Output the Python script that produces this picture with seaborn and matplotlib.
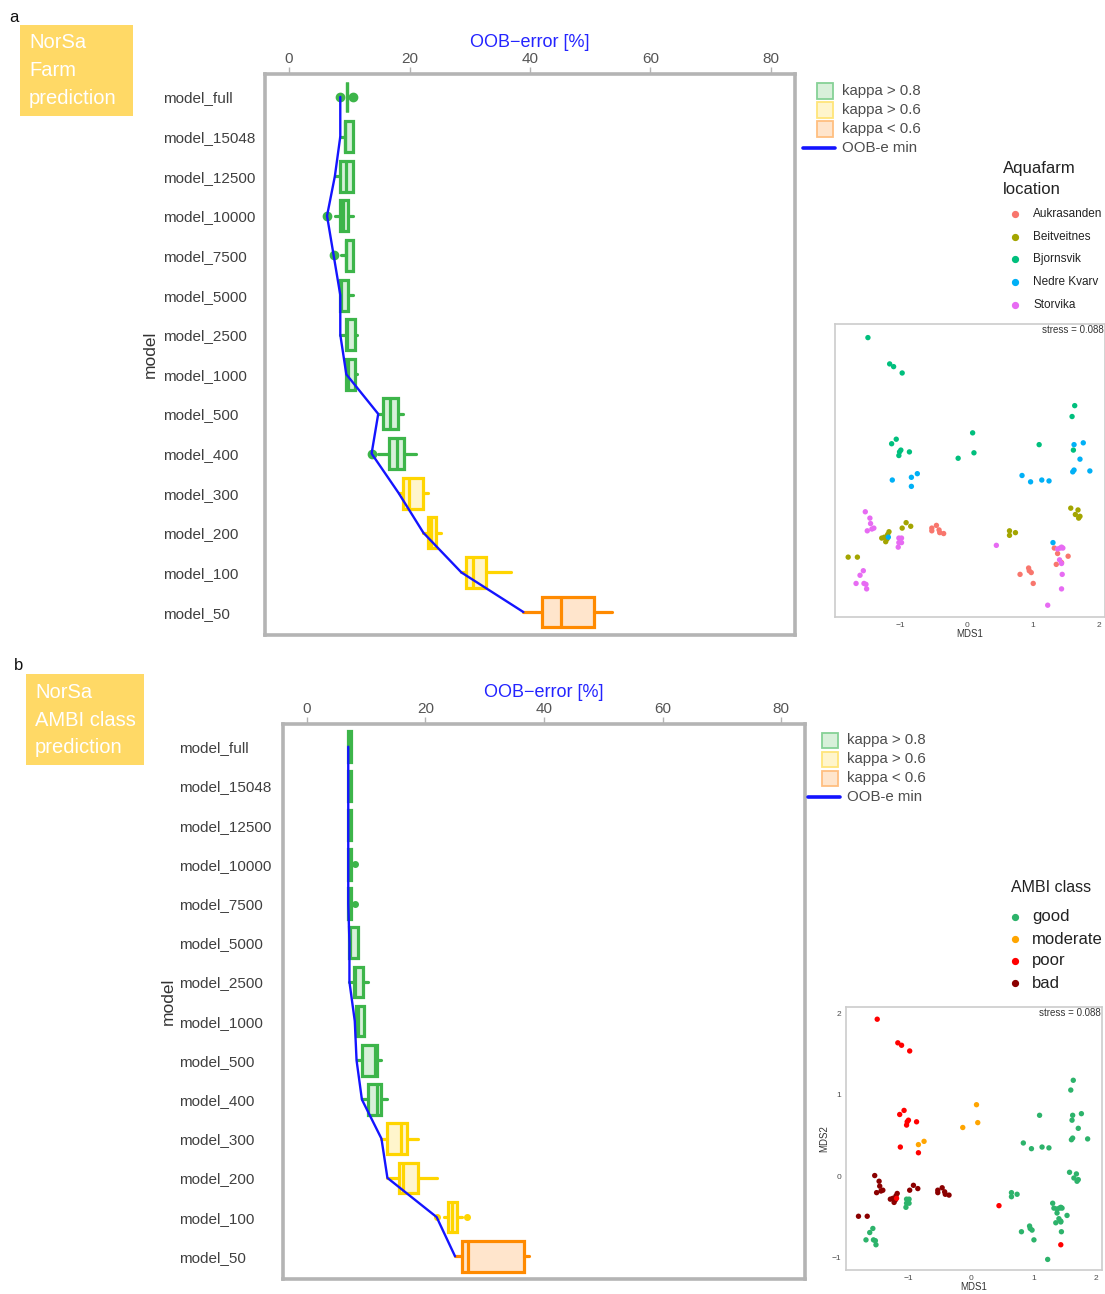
import matplotlib
matplotlib.use('Agg')
import matplotlib.pyplot as plt
import seaborn as sns
import numpy as np
import pandas as pd
from matplotlib.patches import Rectangle
from matplotlib.lines import Line2D

sns.set_theme(style='white')
plt.rcParams['font.family'] = ['Liberation Sans', 'DejaVu Sans']

# ---------------- data ----------------
models = ['model_full', 'model_15048', 'model_12500', 'model_10000', 'model_7500',
          'model_5000', 'model_2500', 'model_1000', 'model_500', 'model_400',
          'model_300', 'model_200', 'model_100', 'model_50']
kappa_class = ['hi'] * 10 + ['mid'] * 3 + ['lo']

# panel a: OOB error box statistics [%]
a_whislo = [9.6, 8.5, 7.6, 7.6, 8.6, 8.5, 8.5, 9.5, 14.8, 14.8, 18.2, 22.3, 28.6, 38.9]
a_q1     = [9.6, 9.3, 8.5, 8.5, 9.4, 8.5, 9.4, 9.5, 15.6, 16.6, 18.9, 23.1, 29.4, 42.0]
a_med    = [9.6, 9.3, 9.5, 8.9, 9.5, 8.6, 9.6, 9.7, 16.8, 17.9, 19.9, 23.6, 30.6, 45.2]
a_q3     = [9.6, 10.6, 10.6, 9.7, 10.6, 9.7, 10.9, 10.9, 18.0, 19.1, 22.2, 24.4, 32.7, 50.6]
a_whishi = [9.6, 10.6, 10.6, 10.6, 10.6, 10.6, 11.3, 11.3, 18.9, 21.1, 23.1, 25.3, 36.8, 53.6]
a_fliers = [[8.5, 10.6], [], [], [6.3], [7.4], [], [], [], [], [13.7], [], [], [], []]

# panel b: OOB error box statistics [%]
b_whislo = [7.0, 7.0, 7.0, 7.0, 7.0, 7.2, 7.2, 8.1, 8.4, 9.3, 12.6, 13.6, 23.1, 25.0]
b_q1     = [7.0, 7.0, 7.0, 7.0, 7.0, 7.2, 7.9, 8.3, 9.3, 10.3, 13.5, 15.5, 23.9, 26.1]
b_med    = [7.2, 7.2, 7.2, 7.2, 7.2, 7.3, 8.2, 8.6, 11.5, 11.8, 15.9, 16.3, 24.5, 27.2]
b_q3     = [7.5, 7.5, 7.5, 7.5, 7.5, 8.6, 9.5, 9.6, 11.8, 12.6, 16.9, 18.8, 25.3, 36.7]
b_whishi = [7.5, 7.5, 7.5, 7.5, 7.5, 8.6, 10.4, 9.6, 12.5, 13.6, 18.8, 22.0, 26.1, 37.5]
b_fliers = [[], [], [], [8.1], [8.1], [], [], [], [], [], [], [], [21.9, 27.0], []]

# NMDS coordinates, per aquafarm location, with AMBI class
auk_x = [-0.53, -0.53, -0.46, -0.42, -0.41, -0.35, 1.33, 1.38, 1.36, 1.44, 1.54, 0.81, 0.94, 0.95, 0.98, 1.01]
auk_y = [-0.17, -0.20, -0.14, -0.19, -0.22, -0.23, -0.39, -0.45, -0.57, -0.55, -0.48, -0.68, -0.61, -0.64, -0.66, -0.78]
auk_ambi = ['bad'] * 6 + ['good'] * 10

bei_x = [-1.80, -1.66, -1.29, -1.25, -1.20, -1.18, -1.23, -1.21, -0.98, -0.92, -0.85, 0.65, 0.65, 0.74, 1.58, 1.69, 1.65, 1.70, 1.72]
bei_y = [-0.49, -0.49, -0.28, -0.27, -0.24, -0.21, -0.32, -0.29, -0.17, -0.11, -0.15, -0.20, -0.25, -0.22, 0.05, 0.03, -0.02, -0.06, -0.04]
bei_ambi = ['bad'] * 11 + ['good'] * 8

bjo_x = [-1.50, -1.17, -1.11, -0.98, -1.07, -1.14, -1.00, -1.02, -1.03, -0.87, -0.13, 0.09, 0.11, 1.10, 1.64, 1.60, 1.62]
bjo_y = [1.93, 1.64, 1.61, 1.54, 0.81, 0.76, 0.69, 0.67, 0.63, 0.67, 0.60, 0.88, 0.66, 0.75, 1.18, 1.06, 0.69]
bjo_ambi = ['poor'] * 10 + ['moderate'] * 3 + ['good'] * 4

ned_x = [-1.13, -0.84, -0.75, -0.84, 0.84, 0.97, 1.14, 1.25, 1.63, 1.77, 1.72, 1.63, 1.61, 1.87, -1.19, 1.31]
ned_y = [0.36, 0.39, 0.43, 0.29, 0.41, 0.34, 0.36, 0.35, 0.75, 0.77, 0.59, 0.47, 0.45, 0.46, -0.27, -0.33]
ned_ambi = ['poor', 'moderate', 'moderate', 'poor'] + ['good'] * 10 + ['poor', 'good']

sto_x = [-1.54, -1.47, -1.46, -1.51, -1.44, -1.41, -1.03, -0.99, -1.03, -0.99, -1.04, -1.68, -1.62, -1.57,
         -1.56, -1.53, -1.52, 0.45, 1.38, 1.42, 1.44, 1.46, 1.41, 1.44, 1.45, 1.44, 1.23]
sto_y = [0.01, -0.06, -0.12, -0.20, -0.18, -0.17, -0.28, -0.28, -0.33, -0.33, -0.38, -0.78, -0.69, -0.64,
         -0.78, -0.79, -0.84, -0.36, -0.40, -0.39, -0.38, -0.39, -0.52, -0.56, -0.68, -0.84, -1.02]
sto_ambi = ['bad'] * 6 + ['good'] * 11 + ['poor'] + ['good'] * 7 + ['poor', 'good']

farms = ['Aukrasanden', 'Beitveitnes', 'Bjornsvik', 'Nedre Kvarv', 'Storvika']
farm_colors = ['#F8766D', '#A3A500', '#00BF7D', '#00B0F6', '#E76BF3']
ambi_classes = ['good', 'moderate', 'poor', 'bad']
ambi_colors = ['#2DB36B', '#FFA500', '#FF0000', '#8B0000']
stress_label = 'stress = 0.088'

# ---------------- build tables ----------------
parts = []
for f, xs, ys, am in zip(farms, [auk_x, bei_x, bjo_x, ned_x, sto_x], [auk_y, bei_y, bjo_y, ned_y, sto_y],
                         [auk_ambi, bei_ambi, bjo_ambi, ned_ambi, sto_ambi]):
    parts.append(pd.DataFrame({'MDS1': xs, 'MDS2': ys, 'farm': f, 'ambi': am}))
nmds = pd.concat(parts, ignore_index=True)

edge_col = {'hi': '#3DB54A', 'mid': '#FFD500', 'lo': '#FF8A00'}
fill_col = {'hi': '#D8F0DA', 'mid': '#FFF5CC', 'lo': '#FFE5CC'}

W, H = 1105, 1294
fig = plt.figure(figsize=(W / 100, H / 100), dpi=100)


def fx(x):
    return x / W


def fy(y):
    return 1 - y / H


def box_panel(rect, whislo, q1, med, q3, whishi, fliers, label_x, ylabel_x, fsz):
    ax = fig.add_axes(rect)
    for i in range(len(models)):
        st = [dict(whislo=whislo[i], q1=q1[i], med=med[i], q3=q3[i], whishi=whishi[i], fliers=fliers[i])]
        kc = kappa_class[i]
        kw = dict(positions=[i], widths=0.78, patch_artist=True, showcaps=False,
                  boxprops=dict(facecolor=fill_col[kc], edgecolor=edge_col[kc], linewidth=2.3),
                  whiskerprops=dict(color=edge_col[kc], linewidth=2.3),
                  medianprops=dict(color=edge_col[kc], linewidth=2.3),
                  flierprops=dict(marker='o', markerfacecolor=edge_col[kc], markeredgecolor=edge_col[kc],
                                  markersize=fsz))
        try:
            ax.bxp(st, orientation='horizontal', **kw)
        except TypeError:
            ax.bxp(st, vert=False, **kw)
    mins = [min([whislo[i]] + list(fliers[i])) for i in range(len(models))]
    line_df = pd.DataFrame({'oob': mins, 'pos': list(range(len(models)))})
    sns.lineplot(data=line_df, x='oob', y='pos', sort=False, orient='y', color='#1414FF',
                 linewidth=1.7, ax=ax, zorder=6)
    ax.set_xlim(-4, 84)
    ax.set_ylim(13.58, -0.58)
    ax.xaxis.tick_top()
    ax.xaxis.set_label_position('top')
    ax.set_xticks([0, 20, 40, 60, 80])
    ax.set_yticks(range(len(models)))
    ax.set_yticklabels(models, ha='left')
    ax.set_xlabel('OOB\u2212error [%]', color='#2424FF', fontsize=13, labelpad=4)
    ax.set_ylabel('')
    for s in ax.spines.values():
        s.set_color('#B4B4B4')
        s.set_linewidth(2.6)
    ax.tick_params(axis='x', colors='#B4B4B4', labelcolor='#555555', labelsize=11, length=5, width=1, pad=0.5)
    pad_pt = (rect[0] * W - label_x) * 0.72 - 3.6
    ax.tick_params(axis='y', colors='#B4B4B4', labelcolor='#404040', labelsize=11, length=5, width=1,
                   pad=pad_pt)
    fig.text(fx(ylabel_x), rect[1] + rect[3] / 2, 'model', rotation=90, ha='center', va='center',
             fontsize=12.5, color='#333333')
    ax.grid(False)
    return ax


# panel a boxes
box_panel([fx(265), fy(635), fx(795 - 265), (635 - 74) / H],
          a_whislo, a_q1, a_med, a_q3, a_whishi, a_fliers, 165, 150, 6)
# panel b boxes
box_panel([fx(283), fy(1279), fx(805 - 283), (1279 - 724) / H],
          b_whislo, b_q1, b_med, b_q3, b_whishi, b_fliers, 181, 168, 4)


def scatter_panel(rect, hue, order, colors, show_y):
    ax = fig.add_axes(rect)
    sns.scatterplot(data=nmds, x='MDS1', y='MDS2', hue=hue, hue_order=order, palette=colors,
                    s=15, linewidth=0, legend=False, ax=ax)
    ax.set_xlim(-2.0, 2.1)
    ax.set_ylim(-1.15, 2.08)
    ax.set_xticks([-1, 0, 1, 2])
    ax.set_yticks([-1, 0, 1, 2])
    for s in ax.spines.values():
        s.set_color('#CCCCCC')
        s.set_linewidth(1.2)
    ax.tick_params(colors='#CCCCCC', labelcolor='#4D4D4D', labelsize=6, length=2.5, width=0.8, pad=1)
    ax.set_xlabel('MDS1', fontsize=7, color='#333333', labelpad=0)
    if show_y:
        ax.set_ylabel('MDS2', fontsize=7, color='#333333', labelpad=1.5)
    else:
        ax.set_yticklabels([])
        ax.set_ylabel('')
    ax.text(0.995, 0.995, stress_label, transform=ax.transAxes, ha='right', va='top', fontsize=7,
            color='#333333')
    ax.grid(False)
    return ax


scatter_panel([fx(835), fy(617), fx(1105 - 835), (617 - 324) / H], 'farm', farms, farm_colors, False)
scatter_panel([fx(846), fy(1270), fx(1102 - 846), (1270 - 1007) / H], 'ambi', ambi_classes, ambi_colors, True)

# ---------------- legends (drawn in figure coords) ----------------
leg_edge = {'hi': '#86D196', 'mid': '#FFE57A', 'lo': '#FFBF80'}
leg_labels = ['kappa > 0.8', 'kappa > 0.6', 'kappa < 0.6']


def kappa_legend(x0, ys, text_x, line_y, line_x0, line_x1):
    for kc, lab, yc in zip(['hi', 'mid', 'lo'], leg_labels, ys):
        fig.add_artist(Rectangle((fx(x0), fy(yc + 7.5)), 16 / W, 15 / H, facecolor=fill_col[kc],
                                 edgecolor=leg_edge[kc], linewidth=1.3, transform=fig.transFigure))
        fig.text(fx(text_x), fy(yc), lab, ha='left', va='center', fontsize=10.8, color='#4D4D4D')
    fig.add_artist(Line2D([fx(line_x0), fx(line_x1)], [fy(line_y), fy(line_y)], color='#1414FF',
                          linewidth=2.6, transform=fig.transFigure))
    fig.text(fx(text_x), fy(line_y), 'OOB-e min', ha='left', va='center', fontsize=10.8, color='#4D4D4D')


kappa_legend(817, [91, 110, 129], 842, 148, 803, 835)
kappa_legend(822, [740, 759, 778], 847, 797, 808, 840)

# farm legend
fig.text(fx(1003), fy(168), 'Aquafarm', ha='left', va='center', fontsize=12, color='#222222')
fig.text(fx(1003), fy(190), 'location', ha='left', va='center', fontsize=12, color='#222222')
for f, c, yy in zip(farms, farm_colors, [214, 237, 259, 282, 305]):
    fig.add_artist(Line2D([fx(1015)], [fy(yy)], marker='o', markersize=4.2, color=c, linestyle='none',
                          transform=fig.transFigure))
    fig.text(fx(1033), fy(yy), f, ha='left', va='center', fontsize=8.5, color='#222222')

# AMBI legend
fig.text(fx(1011), fy(887), 'AMBI class', ha='left', va='center', fontsize=11.5, color='#222222')
for a, c, yy in zip(ambi_classes, ambi_colors, [917, 939, 961, 983]):
    fig.add_artist(Line2D([fx(1015)], [fy(yy)], marker='o', markersize=4.2, color=c, linestyle='none',
                          transform=fig.transFigure))
    fig.text(fx(1032), fy(yy), a, ha='left', va='center', fontsize=12, color='#222222')

# panel letters and title boxes
fig.text(fx(14), fy(17), 'a', ha='center', va='center', fontsize=12, color='#111111')
fig.text(fx(19), fy(665), 'b', ha='center', va='center', fontsize=12, color='#111111')

fig.add_artist(Rectangle((fx(20), fy(116)), 113 / W, 91 / H, facecolor='#FFD966', edgecolor='none',
                         transform=fig.transFigure))
for t, yy in zip(['NorSa', 'Farm', 'prediction'], [43, 71, 98]):
    fig.text(fx(29), fy(yy), t, ha='left', va='center', fontsize=14.5, color='white')

fig.add_artist(Rectangle((fx(26), fy(765)), 118 / W, 91 / H, facecolor='#FFD966', edgecolor='none',
                         transform=fig.transFigure))
for t, yy in zip(['NorSa', 'AMBI class', 'prediction'], [693, 720, 748]):
    fig.text(fx(35), fy(yy), t, ha='left', va='center', fontsize=14.5, color='white')

fig.savefig('out.png', dpi=100)
